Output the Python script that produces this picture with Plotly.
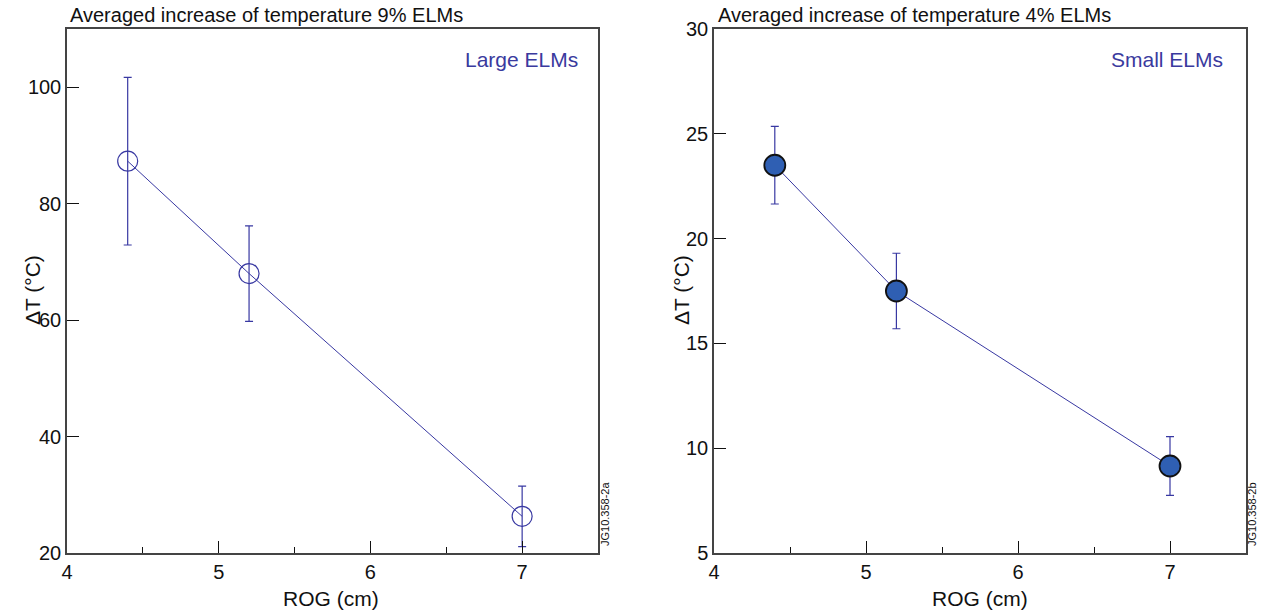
import plotly.graph_objects as go

# Data
rog = [4.4, 5.2, 7.0]
dT_large = [87.3, 68.0, 26.3]
err_large = [14.4, 8.2, 5.2]
dT_small = [23.5, 17.5, 9.15]
err_small = [1.85, 1.8, 1.4]

W, H = 1264, 615
# target page-pixel frame positions
FL, FR, FT, FB = 67, 1246, 29, 553
ML, MR, MT, MB = FL, W - FR, FT, H - FB
PW, PH = W - ML - MR, H - MT - MB
LINE = "#3838a2"
FONT = "Liberation Sans, Arial, Helvetica, sans-serif"

fig = go.Figure()

fig.add_trace(go.Scatter(
    x=rog, y=dT_large, mode="lines+markers", xaxis="x", yaxis="y",
    line=dict(color=LINE, width=1),
    marker=dict(symbol="circle-open", size=20, color=LINE, line=dict(width=1.2)),
    error_y=dict(type="data", array=err_large, color=LINE, thickness=1.2, width=4),
    showlegend=False,
))
fig.add_trace(go.Scatter(
    x=rog, y=dT_small, mode="lines+markers", xaxis="x2", yaxis="y2",
    line=dict(color=LINE, width=1),
    marker=dict(symbol="circle", size=21, color="#2f5fb3", line=dict(width=1.8, color="#111111")),
    error_y=dict(type="data", array=err_small, color=LINE, thickness=1.2, width=4),
    showlegend=False,
))


def px_x(p):
    return (p - FL) / PW


def px_y(p):
    return (FB - p) / PH


left = [0, px_x(598)]
right = [px_x(714), 1]

axis_common = dict(
    showline=True, linecolor="#444444", linewidth=1.5, mirror=True,
    ticks="inside", tickcolor="#111111", tickwidth=1.2,
    showgrid=False, zeroline=False, automargin=False,
    tickfont=dict(family=FONT, size=20, color="#111111"),
)
minor = dict(dtick=0.5, ticks="inside", ticklen=6, tickcolor="#111111", tickwidth=1.2)

fig.update_layout(
    width=W, height=H, autosize=False,
    margin=dict(l=ML, r=MR, t=MT, b=MB, pad=0, autoexpand=False),
    paper_bgcolor="white", plot_bgcolor="white",
    xaxis=dict(domain=left, anchor="y", range=[4, 7.5], dtick=1, ticklen=12, minor=minor, **axis_common),
    yaxis=dict(domain=[0, 1], anchor="x", range=[20, 110], dtick=20, ticklen=12, **axis_common),
    xaxis2=dict(domain=right, anchor="y2", range=[4, 7.5], dtick=1, ticklen=12, minor=minor, **axis_common),
    yaxis2=dict(domain=[0, 1], anchor="x2", range=[5, 30], dtick=5, ticklen=12, **axis_common),
)

anns = [
    dict(text="Averaged increase of temperature 9% ELMs", x=px_x(68), y=px_y(15),
         xanchor="left", yanchor="middle", font=dict(size=20)),
    dict(text="Averaged increase of temperature 4% ELMs", x=px_x(716), y=px_y(15),
         xanchor="left", yanchor="middle", font=dict(size=20)),
    dict(text="Large ELMs", x=px_x(580), y=px_y(59), xanchor="right", yanchor="middle",
         font=dict(size=21, color="#3a3a9e")),
    dict(text="Small ELMs", x=px_x(1225), y=px_y(59), xanchor="right", yanchor="middle",
         font=dict(size=21, color="#3a3a9e")),
    dict(text="ROG (cm)", x=px_x(331), y=px_y(598), xanchor="center", yanchor="middle",
         font=dict(size=21)),
    dict(text="ROG (cm)", x=px_x(980), y=px_y(598), xanchor="center", yanchor="middle",
         font=dict(size=21)),
    dict(text="ΔT (°C)", x=px_x(32), y=px_y(290), xanchor="center", yanchor="middle",
         textangle=-90, font=dict(size=21)),
    dict(text="ΔT (°C)", x=px_x(681), y=px_y(290), xanchor="center", yanchor="middle",
         textangle=-90, font=dict(size=21)),
    dict(text="JG10.358-2a", x=px_x(605), y=px_y(548), xanchor="center", yanchor="bottom",
         textangle=-90, font=dict(size=11)),
    dict(text="JG10.358-2b", x=px_x(1252), y=px_y(548), xanchor="center", yanchor="bottom",
         textangle=-90, font=dict(size=11)),
]
for a in anns:
    a["showarrow"] = False
    a["xref"] = "paper"
    a["yref"] = "paper"
    a["font"].setdefault("color", "#111111")
    a["font"]["family"] = FONT
fig.update_layout(annotations=anns)

fig.write_html("out.html", config={"displayModeBar": False},
               post_script="document.body.style.margin='0px';")
